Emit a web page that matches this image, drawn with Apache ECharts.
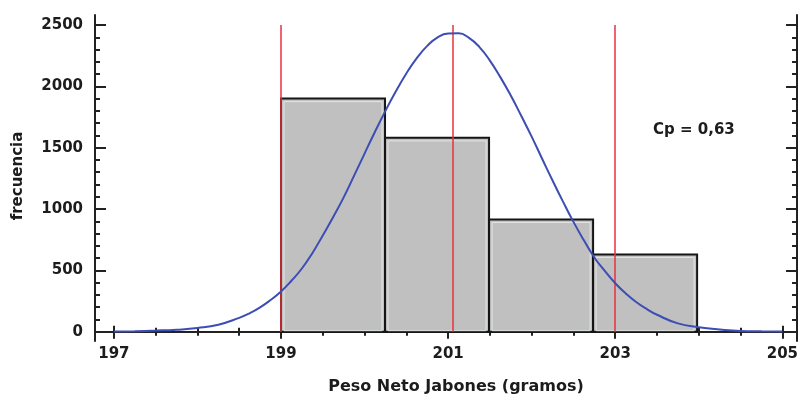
<!DOCTYPE html>
<html>
<head>
<meta charset="utf-8">
<script src="https://cdn.jsdelivr.net/npm/echarts@6/dist/echarts.min.js"></script>
<style>
  html, body { margin: 0; padding: 0; background: #ffffff; }
  #chart { width: 801px; height: 398px; }
</style>
</head>
<body>
<div id="chart"></div>
<script>
// Histogram bins of net soap weight (grams) and their counts
const BIN_EDGES = [199, 200.245, 201.49, 202.735, 203.98];
const BIN_COUNTS = [1900, 1580, 915, 630];

// Fitted normal curve: coarse steps in the tails, finer steps around the bell
const CURVE_X = [
  197, 197.25, 197.5, 197.75, 198, 198.25,
  198.5, 198.625, 198.75, 198.875, 199, 199.125, 199.25, 199.375,
  199.5, 199.625, 199.75, 199.875, 200, 200.125, 200.25, 200.375,
  200.5, 200.625, 200.75, 200.875, 201, 201.125, 201.25, 201.375,
  201.5, 201.625, 201.75, 201.875, 202, 202.125, 202.25, 202.375,
  202.5, 202.625, 202.75, 202.875, 203, 203.125, 203.25, 203.375, 203.5,
  203.75, 204, 204.25, 204.5, 204.75, 205
];
const CURVE_Y = [
  1, 4, 9, 16, 30, 57,
  113, 150, 198, 258, 328, 415, 515, 640,
  785, 935, 1095, 1272, 1452, 1630, 1800, 1960,
  2105, 2230, 2330, 2400, 2430, 2432, 2395, 2320,
  2210, 2075, 1925, 1760, 1590, 1410, 1232, 1060,
  895, 745, 605, 495, 395, 312, 242, 186, 138,
  68, 37, 18, 6, 3, 1
];

// Lower limit, mean and upper limit markers
const REF_LINES = [199, 201.05, 203];
const REF_TOP = 2500;

// Axis ticks and labels
const X_LABELS = [197, 199, 201, 203, 205];
const X_MINOR = [197.5, 198, 198.5, 199.5, 200, 200.5, 201.5, 202, 202.5, 203.5, 204, 204.5];
const Y_LABELS = [0, 500, 1000, 1500, 2000, 2500];
const Y_MINOR = [100, 200, 300, 400, 600, 700, 800, 900, 1100, 1200, 1300, 1400, 1600, 1700, 1800, 1900, 2100, 2200, 2300, 2400];

const CP_TEXT = 'Cp = 0,63';
const X_TITLE = 'Peso Neto Jabones (gramos)';
const Y_TITLE = 'frecuencia';

const X_MIN = 196.774, X_MAX = 205.176;
const Y_MIN = -76, Y_MAX = 2581.5;

const FONT = 'DejaVu Sans';
const INK = '#1c1c1c';

const frameLine = { show: true, lineStyle: { color: '#222', width: 2 } };
const plain = v => String(Math.round(v));

function xAxisDef(position, ticks, len, withLine, withLabels) {
  return {
    type: 'value', position: position, min: X_MIN, max: X_MAX,
    axisLine: withLine ? frameLine : { show: false },
    axisTick: { show: true, inside: true, length: len, customValues: ticks,
                lineStyle: { color: '#222', width: 2 } },
    axisLabel: withLabels ? {
      show: true, customValues: X_LABELS, margin: 6, formatter: plain,
      fontFamily: FONT, fontWeight: 'bold', fontSize: 15, color: INK
    } : { show: false },
    splitLine: { show: false }
  };
}
function yAxisDef(position, ticks, len, withLine, withLabels) {
  return {
    type: 'value', position: position, min: Y_MIN, max: Y_MAX,
    axisLine: withLine ? frameLine : { show: false },
    axisTick: { show: true, inside: true, length: len, customValues: ticks,
                lineStyle: { color: '#222', width: 2 } },
    axisLabel: withLabels ? {
      show: true, customValues: Y_LABELS, margin: 12, formatter: plain,
      fontFamily: FONT, fontWeight: 'bold', fontSize: 15, color: INK
    } : { show: false },
    splitLine: { show: false }
  };
}

const chart = echarts.init(document.getElementById('chart'), null, { renderer: 'canvas' });

const option = {
  backgroundColor: '#ffffff',
  animation: false,
  grid: { left: 95, right: 1, top: 15, bottom: 57, containLabel: false },
  xAxis: [
    xAxisDef('bottom', X_LABELS, 6, true, true),
    xAxisDef('bottom', X_MINOR, 4, false, false),
    xAxisDef('top', X_LABELS, 7, true, false),
    xAxisDef('top', X_MINOR, 4, false, false)
  ],
  yAxis: [
    yAxisDef('left', Y_LABELS, 11, true, true),
    yAxisDef('left', Y_MINOR, 5, false, false),
    yAxisDef('right', Y_LABELS, 11, true, false),
    yAxisDef('right', Y_MINOR, 5, false, false)
  ],
  graphic: [
    {
      type: 'text', left: 653, top: 123,
      style: { text: CP_TEXT, font: 'bold 15px "' + FONT + '"', fill: INK }
    },
    {
      type: 'text', x: 456, y: 387,
      style: { text: X_TITLE, font: 'bold 16px "' + FONT + '"', fill: INK,
               align: 'center', verticalAlign: 'middle' }
    },
    {
      type: 'text', x: 18, y: 176, rotation: Math.PI / 2,
      style: { text: Y_TITLE, font: 'bold 15px "' + FONT + '"', fill: INK,
               align: 'center', verticalAlign: 'middle' }
    }
  ],
  series: [
    {
      type: 'custom',
      xAxisIndex: 0, yAxisIndex: 0,
      z: 2,
      encode: { x: [0, 1], y: 2 },
      data: BIN_COUNTS.map((c, i) => [BIN_EDGES[i], BIN_EDGES[i + 1], c]),
      renderItem: function (params, api) {
        const p0 = api.coord([api.value(0), 0]);
        const p1 = api.coord([api.value(1), api.value(2)]);
        const x = p0[0], y = p1[1], w = p1[0] - p0[0], h = p0[1] - p1[1];
        return {
          type: 'group',
          children: [
            { type: 'rect', shape: { x: x, y: y, width: w, height: h },
              style: { fill: '#c0c0c0', stroke: '#151515', lineWidth: 2 } },
            { type: 'rect', shape: { x: x + 3, y: y + 3, width: w - 6, height: h - 4 },
              style: { fill: 'none', stroke: '#e3e6e6', lineWidth: 1 } }
          ]
        };
      }
    },
    {
      type: 'lines',
      coordinateSystem: 'cartesian2d',
      xAxisIndex: 0, yAxisIndex: 0,
      z: 3,
      symbol: 'none',
      lineStyle: { color: '#e8323c', width: 1.5, opacity: 1 },
      data: REF_LINES.map(v => ({ coords: [[v, 0], [v, REF_TOP]] }))
    },
    {
      type: 'line',
      xAxisIndex: 0, yAxisIndex: 0,
      z: 4,
      smooth: 0.5,
      showSymbol: false,
      symbol: 'none',
      lineStyle: { color: '#3c4db3', width: 2 },
      data: CURVE_X.map((x, i) => [x, CURVE_Y[i]])
    }
  ]
};

chart.setOption(option);
</script>
</body>
</html>
